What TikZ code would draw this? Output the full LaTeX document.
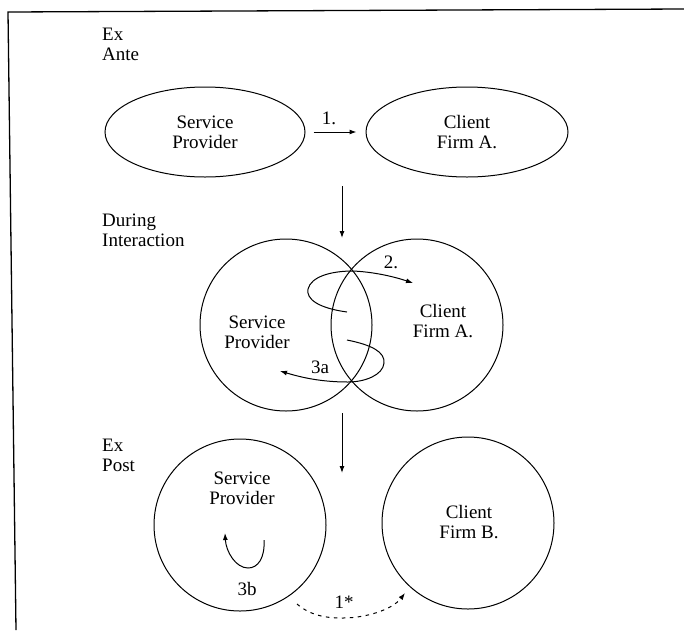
\documentclass[tikz,border=0pt]{standalone}
\usepackage{fontspec}
\setmainfont{Liberation Serif}
\usetikzlibrary{arrows.meta,shapes.geometric}
\begin{document}
\begin{tikzpicture}[x=1pt,y=-1pt,
  every node/.style={font=\fontsize{19}{20}\selectfont, inner sep=0pt, align=center},
  ell/.style={draw, ellipse, line width=1pt, minimum width=200pt, minimum height=90pt},
  circ/.style={draw, circle, line width=1pt, minimum size=172pt},
  lab/.style={align=left, anchor=west},
  arr/.style={line width=1pt, -{Latex[length=7pt,width=5pt]}},
  dsh/.style={arr, dash pattern=on 3.5pt off 4.5pt}
]
\useasboundingbox (0,0) rectangle (684,630);
% frame
\coordinate (f1) at (684,9);
\coordinate (f2) at (8,12);
\coordinate (f3) at (16,630);
\draw[line width=1.3pt] (f1) -- (f2) -- (f3);

% stage labels
\node[lab] (exante) at (102,44) {Ex\\Ante};
\node[lab] (during) at (102,230) {During\\Interaction};
\node[lab] (expost) at (102,455) {Ex\\Post};

% Ex ante
\node[ell] (sp1) at (205,132) {Service\\Provider};
\node[ell, minimum width=202pt] (cf1) at (467,132) {Client\\Firm A.};
\draw[arr, shorten <=8pt, shorten >=9pt] (sp1.east) -- (cf1.west);
\node (l1) at (329,118) {1.};

\coordinate (d1s) at (342,186);
\coordinate (d1e) at (342,238);
\draw[arr] (d1s) -- (d1e);

% During interaction
\node[circ] (sp2) at (286,325) {};
\node[circ] (cf2) at (417,325) {};
\node (sp2t) at (257,332) {Service\\Provider};
\node (cf2t) at (443,321) {Client\\Firm A.};

\coordinate (a2s) at (347,312);
\coordinate (a2e) at (413,283);
\draw[arr] (a2s) .. controls (318,308) and (306,299) .. (308,289)
  .. controls (311,277) and (330,271) .. (353,271)
  .. controls (375,272) and (395,277) .. (a2e);
\node (l2) at (391,262) {2.};

\coordinate (a3s) at (347,340);
\coordinate (a3e) at (280,371);
\draw[arr] (a3s) .. controls (372,345) and (385,352) .. (384,363)
  .. controls (383,375) and (365,382) .. (348,382)
  .. controls (320,382) and (300,377) .. (a3e);
\node (l3a) at (320,367) {3a};

\coordinate (d2s) at (342,413);
\coordinate (d2e) at (342,473);
\draw[arr] (d2s) -- (d2e);

% Ex post
\node[circ] (sp3) at (240,525) {};
\node[circ] (cf3) at (468,523) {};
\node (sp3t) at (242,488) {Service\\Provider};
\node (cf3t) at (469,522) {Client\\Firm B.};

\coordinate (b3s) at (264,540);
\coordinate (b3e) at (225,533);
\draw[arr] (b3s) .. controls (265,558) and (258,568) .. (248,568)
  .. controls (236,568) and (226,552) .. (b3e);
\node (l3b) at (247,589) {3b};

\coordinate (s1s) at (297,604);
\coordinate (s1e) at (405,593);
\draw[dsh] (s1s) .. controls (312,617) and (330,618) .. (343,618)
  .. controls (365,618) and (392,610) .. (s1e);
\node (l1s) at (344,602) {1*};
\end{tikzpicture}
\end{document}
